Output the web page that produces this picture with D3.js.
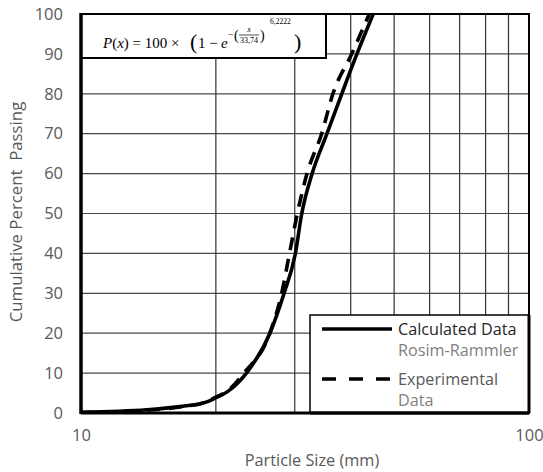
<!DOCTYPE html>
<html><head><meta charset="utf-8">
<script src="https://cdn.jsdelivr.net/npm/d3@7"></script>
<style>body{margin:0;background:#fff}svg{display:block}</style>
</head><body>
<svg id="c" width="543" height="472"></svg>
<script>
const xTicks = [10, 100];
const xGrid = [20, 30, 40, 50, 60, 70, 80, 90];
const yTicks = [0, 10, 20, 30, 40, 50, 60, 70, 80, 90, 100];
const calcSize = [10, 14, 16.6, 19.1, 19.9, 21.2, 23.4, 26.4, 28.4, 30.1, 31.1, 32.8, 35.4, 38.2, 41.3, 44.9];
const calcPass = [0.2, 0.8, 1.6, 2.8, 3.7, 5.3, 10, 20, 30, 40, 50, 60, 70, 80, 90, 100];
const expSize = [10, 14, 16.6, 19.1, 20, 21.1, 23.1, 26.4, 28.05, 29.2, 30.4, 31.95, 34.45, 36.5, 40.2, 44.0];
const expPass = [0.1, 0.7, 1.5, 2.8, 4, 5.3, 10, 20, 30, 40, 50, 60, 70, 80, 90, 100];
const legendLabels = [["Calculated Data", "Rosim-Rammler"], ["Experimental", "Data"]];

const svg = d3.select("#c");
const L = 81, R = 529, T = 14, B = 413;
const x = d3.scaleLog().domain([10, 100]).range([L, R]);
const y = d3.scaleLinear().domain([0, 100]).range([B, T]);
const font = "'Open Sans', sans-serif";

// grid
svg.append("g").selectAll("line").data(yTicks.filter(v => v > 0 && v < 100)).join("line")
  .attr("x1", L).attr("x2", R).attr("y1", d => y(d)).attr("y2", d => y(d))
  .attr("stroke", "#4a4a4a").attr("stroke-width", 1.2);
svg.append("g").selectAll("line").data(xGrid).join("line")
  .attr("x1", d => x(d)).attr("x2", d => x(d)).attr("y1", T).attr("y2", B)
  .attr("stroke", "#333").attr("stroke-width", 1.2);

// axes labels
const ya = svg.append("g").attr("transform", `translate(${L},0)`)
  .call(d3.axisLeft(y).tickValues(yTicks).tickSize(0).tickPadding(18));
ya.select(".domain").remove();
ya.selectAll("text").attr("font-family", font).attr("font-size", 16.5).attr("fill", "#595959");
const xa = svg.append("g").attr("transform", `translate(0,${B})`)
  .call(d3.axisBottom(x).tickValues(xTicks).tickFormat(d3.format("d")).tickSize(0).tickPadding(16));
xa.select(".domain").remove();
xa.selectAll("text").attr("font-family", font).attr("font-size", 16.5).attr("fill", "#595959");

svg.append("text").attr("x", 312).attr("y", 466).attr("text-anchor", "middle")
  .attr("font-family", font).attr("font-size", 16.3).attr("fill", "#595959").text("Particle Size (mm)");
svg.append("text").attr("transform", "translate(22,212) rotate(-90)").attr("text-anchor", "middle")
  .attr("font-family", font).attr("font-size", 16.8).attr("fill", "#595959")
  .attr("xml:space", "preserve").text("Cumulative Percent  Passing");

// curves
svg.append("clipPath").attr("id", "clip").append("rect")
  .attr("x", L).attr("y", T).attr("width", R - L).attr("height", B - T);
const line = d3.line().x(d => x(d[0])).y(d => y(d[1])).curve(d3.curveMonotoneX);
const calc = calcSize.map((s, i) => [s, calcPass[i]]);
const exp = expSize.map((s, i) => [s, expPass[i]]);
const cg = svg.append("g").attr("clip-path", "url(#clip)");
cg.append("path").attr("d", line(exp)).attr("fill", "none").attr("stroke", "#000")
  .attr("stroke-width", 3.6).attr("stroke-dasharray", "13,9");
cg.append("path").attr("d", line(calc)).attr("fill", "none").attr("stroke", "#000")
  .attr("stroke-width", 3.6);

// equation box
svg.append("rect").attr("x", L).attr("y", T).attr("width", 245).attr("height", 44)
  .attr("fill", "#fff").attr("stroke", "#000").attr("stroke-width", 2);
const eq = svg.append("g").attr("font-family", "'Liberation Serif', serif").attr("fill", "#000");
const t1 = eq.append("text").attr("x", 103).attr("y", 48).attr("font-size", 15);
t1.append("tspan").attr("font-style", "italic").text("P");
t1.append("tspan").text("(");
t1.append("tspan").attr("font-style", "italic").text("x");
t1.append("tspan").text(") = 100 × ");
eq.append("text").attr("x", 190).attr("y", 49).attr("font-size", 22).text("(");
eq.append("text").attr("x", 198).attr("y", 48).attr("font-size", 15).text("1 − ");
eq.append("text").attr("x", 221).attr("y", 48).attr("font-size", 15).attr("font-style", "italic").text("e");
eq.append("text").attr("x", 228).attr("y", 38).attr("font-size", 10).text("−");
eq.append("text").attr("x", 234).attr("y", 40).attr("font-size", 14).text("(");
eq.append("text").attr("x", 249).attr("y", 32).attr("font-size", 8).attr("font-style", "italic").attr("text-anchor", "middle").text("x");
eq.append("line").attr("x1", 239).attr("x2", 259).attr("y1", 35).attr("y2", 35).attr("stroke", "#000").attr("stroke-width", 0.7);
eq.append("text").attr("x", 249).attr("y", 43).attr("font-size", 8).attr("text-anchor", "middle").text("33,74");
eq.append("text").attr("x", 260).attr("y", 40).attr("font-size", 14).text(")");
eq.append("text").attr("x", 270).attr("y", 24).attr("font-size", 7.5).text("6,2222");
eq.append("text").attr("x", 294).attr("y", 49).attr("font-size", 22).text(")");

// legend
const lg = svg.append("g");
lg.append("rect").attr("x", 310).attr("y", 315).attr("width", R - 310).attr("height", B - 315)
  .attr("fill", "#fff").attr("stroke", "#000").attr("stroke-width", 1.5);
lg.append("line").attr("x1", R).attr("x2", R).attr("y1", 315).attr("y2", B).attr("stroke", "#000").attr("stroke-width", 3);
lg.append("line").attr("x1", 310).attr("x2", R).attr("y1", B).attr("y2", B).attr("stroke", "#000").attr("stroke-width", 3);
const legY = [329, 379];
legY.forEach((ly, i) => {
  lg.append("line").attr("x1", 322).attr("x2", 392).attr("y1", ly).attr("y2", ly)
    .attr("stroke", "#000").attr("stroke-width", 3.6).attr("stroke-dasharray", i ? "14,13" : null);
  lg.append("text").attr("x", 398).attr("y", ly + 5.5).attr("font-family", font).attr("font-size", 16.2)
    .attr("fill", i ? "#595959" : "#262626").text(legendLabels[i][0]);
  lg.append("text").attr("x", 398).attr("y", ly + 27).attr("font-family", font).attr("font-size", 16.2)
    .attr("fill", "#7f7f7f").text(legendLabels[i][1]);
});

// plot border
svg.append("rect").attr("x", L).attr("y", T).attr("width", R - L).attr("height", B - T)
  .attr("fill", "none").attr("stroke", "#000").attr("stroke-width", 2);
svg.append("line").attr("x1", L).attr("x2", L).attr("y1", T - 1).attr("y2", B + 1).attr("stroke", "#000").attr("stroke-width", 3.5);
svg.append("line").attr("x1", L).attr("x2", R).attr("y1", B).attr("y2", B).attr("stroke", "#000").attr("stroke-width", 3);
</script>
</body></html>
